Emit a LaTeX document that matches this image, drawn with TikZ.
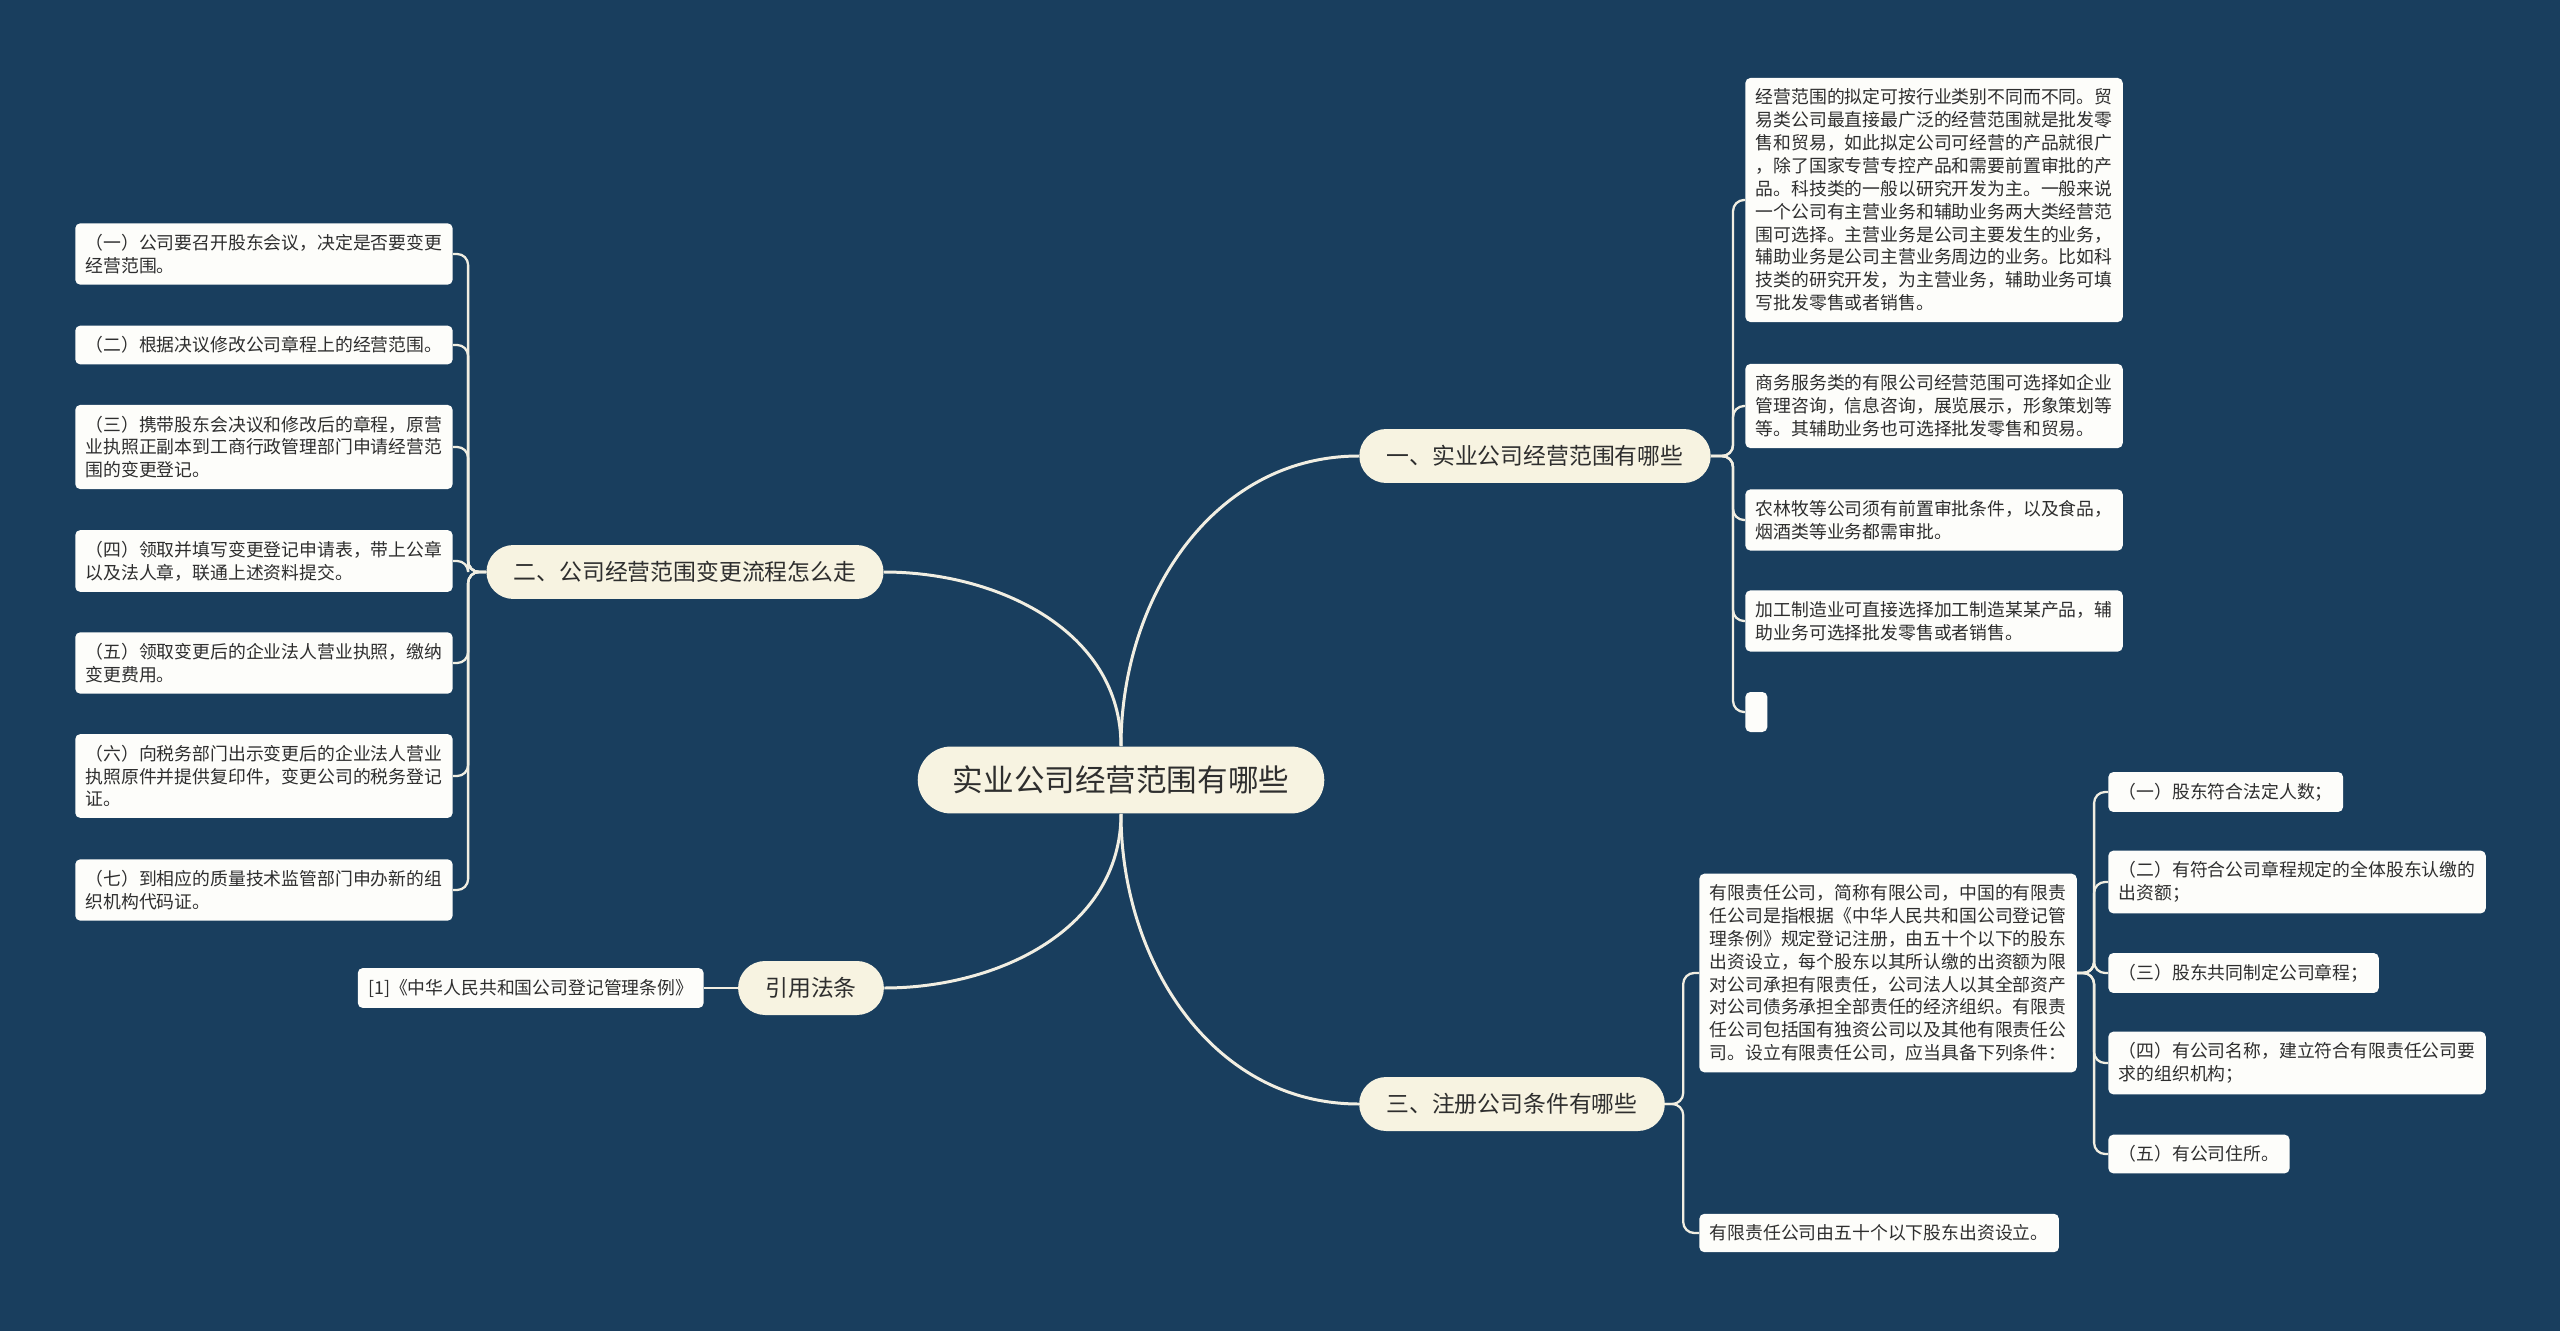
\documentclass[tikz,border=0pt]{standalone}
\usepackage{xcolor}
\usepackage{fontspec}
\setmainfont{Noto Sans CJK SC}
\usepackage{tikz}
\usetikzlibrary{positioning, backgrounds}
\definecolor{bg}{HTML}{193E5E}
\definecolor{wire}{HTML}{F1EEE2}
\definecolor{pill}{HTML}{F7F3E1}
\definecolor{card}{HTML}{FDFDFA}
\definecolor{ink}{HTML}{2E2E2E}
\tikzset{
  root/.style ={rectangle, rounded corners=0.67cm, fill=pill, minimum height=1.34cm, inner xsep=20pt, text=ink, font=\fontsize{17.4pt}{20pt}\selectfont},
  topic/.style={rectangle, rounded corners=0.54cm, fill=pill, minimum height=1.08cm, inner xsep=15.5pt, text=ink, font=\fontsize{13pt}{15pt}\selectfont},
  leaf/.style ={rectangle, rounded corners=0.1cm, fill=card, align=left, inner xsep=5.9pt, inner ysep=6.2pt, text=ink, font=\fontsize{10.15pt}{13pt}\selectfont},
  trunk/.style={draw=wire, line width=1.7pt},
  twig/.style ={draw=wire, line width=1.3pt, rounded corners=0.22cm},
}

\begin{document}
\begin{tikzpicture}[x=0.02cm, y=-0.02cm]
  % centre and main topics
  \node[root] (ctr) at (1121,780) {实业公司经营范围有哪些};
  \node[topic] (b1) at (1535,456) {一、实业公司经营范围有哪些};
  \node[topic] (b2) at (685,572) {二、公司经营范围变更流程怎么走};
  \node[topic] (law) at (811,988) {引用法条};
  \node[topic] (b3) at (1512,1104) {三、注册公司条件有哪些};

  % branch 1
  \node[leaf, anchor=west] (r1) at (1745,200) {经营范围的拟定可按行业类别不同而不同。贸\\%
易类公司最直接最广泛的经营范围就是批发零\\%
售和贸易，如此拟定公司可经营的产品就很广\\%
，除了国家专营专控产品和需要前置审批的产\\%
品。科技类的一般以研究开发为主。一般来说\\%
一个公司有主营业务和辅助业务两大类经营范\\%
围可选择。主营业务是公司主要发生的业务，\\%
辅助业务是公司主营业务周边的业务。比如科\\%
技类的研究开发，为主营业务，辅助业务可填\\%
写批发零售或者销售。};
  \node[leaf, anchor=west] (r2) at (1745,406) {商务服务类的有限公司经营范围可选择如企业\\%
管理咨询，信息咨询，展览展示，形象策划等\\%
等。其辅助业务也可选择批发零售和贸易。};
  \node[leaf, anchor=west] (r3) at (1745,520) {农林牧等公司须有前置审批条件，以及食品，\\%
烟酒类等业务都需审批。};
  \node[leaf, anchor=west] (r4) at (1745,621) {加工制造业可直接选择加工制造某某产品，辅\\%
助业务可选择批发零售或者销售。};
  \node[leaf, anchor=west, inner sep=0pt, minimum width=0.44cm, minimum height=0.8cm] (r5) at (1745,712) {};

  % branch 2
  \node[leaf, anchor=east] (l1) at (453,254) {（一）公司要召开股东会议，决定是否要变更\\%
经营范围。};
  \node[leaf, anchor=east] (l2) at (453,345) {（二）根据决议修改公司章程上的经营范围。};
  \node[leaf, anchor=east] (l3) at (453,447) {（三）携带股东会决议和修改后的章程，原营\\%
业执照正副本到工商行政管理部门申请经营范\\%
围的变更登记。};
  \node[leaf, anchor=east] (l4) at (453,561) {（四）领取并填写变更登记申请表，带上公章\\%
以及法人章，联通上述资料提交。};
  \node[leaf, anchor=east] (l5) at (453,663) {（五）领取变更后的企业法人营业执照，缴纳\\%
变更费用。};
  \node[leaf, anchor=east] (l6) at (453,776) {（六）向税务部门出示变更后的企业法人营业\\%
执照原件并提供复印件，变更公司的税务登记\\%
证。};
  \node[leaf, anchor=east] (l7) at (453,890) {（七）到相应的质量技术监管部门申办新的组\\%
织机构代码证。};

  % cited law
  \node[leaf, anchor=east] (cite) at (704,988) {[1]《中华人民共和国公司登记管理条例》};

  % branch 3
  \node[leaf, anchor=west] (t1) at (1699,973) {有限责任公司，简称有限公司，中国的有限责\\%
任公司是指根据《中华人民共和国公司登记管\\%
理条例》规定登记注册，由五十个以下的股东\\%
出资设立，每个股东以其所认缴的出资额为限\\%
对公司承担有限责任，公司法人以其全部资产\\%
对公司债务承担全部责任的经济组织。有限责\\%
任公司包括国有独资公司以及其他有限责任公\\%
司。设立有限责任公司，应当具备下列条件：};
  \node[leaf, anchor=west] (t2) at (1699,1233) {有限责任公司由五十个以下股东出资设立。};
  \node[leaf, anchor=west] (s1) at (2108,792) {（一）股东符合法定人数；};
  \node[leaf, anchor=west] (s2) at (2108,882) {（二）有符合公司章程规定的全体股东认缴的\\%
出资额；};
  \node[leaf, anchor=west] (s3) at (2108,973) {（三）股东共同制定公司章程；};
  \node[leaf, anchor=west] (s4) at (2108,1063) {（四）有公司名称，建立符合有限责任公司要\\%
求的组织机构；};
  \node[leaf, anchor=west] (s5) at (2108,1154) {（五）有公司住所。};

  \begin{scope}[on background layer]
    \fill[bg] (0,0) rectangle (2560,1331);
    % centre to topics
    \draw[trunk] (ctr.north) to[out=90, in=180] (b1.west);
    \draw[trunk] (ctr.north) to[out=90, in=0] (b2.east);
    \draw[trunk] (ctr.south) to[out=-90, in=0] (law.east);
    \draw[trunk] (ctr.south) to[out=-90, in=180] (b3.west);
    % topics to leaves
    \draw[twig] (b1.east) -- ++(22,0) |- (r1.west);
    \draw[twig] (b1.east) -- ++(22,0) |- (r2.west);
    \draw[twig] (b1.east) -- ++(22,0) |- (r3.west);
    \draw[twig] (b1.east) -- ++(22,0) |- (r4.west);
    \draw[twig] (b1.east) -- ++(22,0) |- (r5.west);
    \draw[twig] (b2.west) -- ++(-18,0) |- (l1.east);
    \draw[twig] (b2.west) -- ++(-18,0) |- (l2.east);
    \draw[twig] (b2.west) -- ++(-18,0) |- (l3.east);
    \draw[twig] (b2.west) -- ++(-18,0) |- (l4.east);
    \draw[twig] (b2.west) -- ++(-18,0) |- (l5.east);
    \draw[twig] (b2.west) -- ++(-18,0) |- (l6.east);
    \draw[twig] (b2.west) -- ++(-18,0) |- (l7.east);
    \draw[twig] (law.west) -- (cite.east);
    \draw[twig] (b3.east) -- ++(18,0) |- (t1.west);
    \draw[twig] (b3.east) -- ++(18,0) |- (t2.west);
    \draw[twig] (t1.east) -- ++(17,0) |- (s1.west);
    \draw[twig] (t1.east) -- ++(17,0) |- (s2.west);
    \draw[twig] (t1.east) -- ++(17,0) |- (s3.west);
    \draw[twig] (t1.east) -- ++(17,0) |- (s4.west);
    \draw[twig] (t1.east) -- ++(17,0) |- (s5.west);
  \end{scope}
\end{tikzpicture}
\end{document}
